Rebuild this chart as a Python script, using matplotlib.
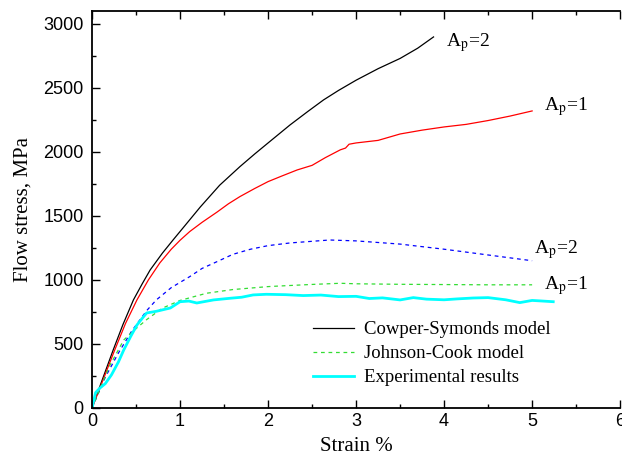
import matplotlib
matplotlib.use("Agg")
import matplotlib.pyplot as plt
from matplotlib.ticker import MultipleLocator

# Cowper-Symonds model, Ap=2 (black)
cs2_x = [0, 0.1, 0.24, 0.35, 0.47, 0.57, 0.66, 0.8, 0.92, 1.05, 1.23, 1.45, 1.68, 1.85, 2.0, 2.25, 2.45, 2.63, 2.8, 3.0, 3.25, 3.5, 3.7, 3.88]
cs2_y = [0, 190, 453, 650, 844, 970, 1078, 1210, 1312, 1420, 1570, 1740, 1885, 1985, 2070, 2211, 2315, 2406, 2480, 2560, 2650, 2730, 2810, 2898]

# Cowper-Symonds model, Ap=1 (red)
cs1_x = [0, 0.1, 0.25, 0.38, 0.51, 0.64, 0.77, 0.9, 1.0, 1.11, 1.25, 1.42, 1.55, 1.68, 1.85, 2.0, 2.15, 2.33, 2.5, 2.65, 2.82, 2.88, 2.92, 3.0, 3.25, 3.5, 3.75, 4.0, 4.25, 4.5, 4.75, 5.0]
cs1_y = [0, 175, 440, 660, 844, 1000, 1133, 1240, 1310, 1378, 1450, 1530, 1595, 1651, 1715, 1768, 1810, 1859, 1895, 1955, 2016, 2030, 2060, 2070, 2090, 2140, 2170, 2195, 2215, 2245, 2280, 2320]

# Johnson-Cook model, Ap=2 (blue dashed)
jc2_x = [0, 0.15, 0.3, 0.45, 0.62, 0.73, 0.9, 1.11, 1.25, 1.42, 1.6, 1.8, 2.0, 2.25, 2.7, 3.0, 3.5, 4.0, 4.5, 5.0]
jc2_y = [0, 240, 430, 600, 760, 844, 940, 1026, 1090, 1143, 1200, 1240, 1268, 1289, 1312, 1305, 1280, 1240, 1195, 1150]

# Johnson-Cook model, Ap=1 (green dashed)
jc1_x = [0, 0.2, 0.36, 0.5, 0.62, 0.8, 1.0, 1.3, 1.6, 2.0, 2.14, 2.5, 2.82, 3.0, 3.5, 4.0, 4.5, 5.0]
jc1_y = [0, 330, 531, 620, 690, 780, 840, 896, 925, 948, 953, 965, 974, 970, 966, 964, 962, 962]

# Experimental results (cyan)
exp_x = [0, 0.04, 0.09, 0.15, 0.22, 0.3, 0.36, 0.44, 0.51, 0.57, 0.62, 0.73, 0.89, 1.0, 1.1, 1.19, 1.38, 1.57, 1.7, 1.83, 1.98,
         2.2, 2.4, 2.6, 2.8, 3.0, 3.15, 3.3, 3.5, 3.65, 3.8, 4.0, 4.15, 4.33, 4.5, 4.7, 4.86, 5.0, 5.1, 5.24]
exp_y = [0, 120, 156, 190, 258, 360, 453, 560, 648, 700, 742, 755, 781, 830, 835, 820, 844, 857, 865, 883, 888,
         885, 878, 882, 870, 872, 855, 860, 844, 862, 850, 845, 852, 859, 862, 845, 823, 840, 836, 830]

plt.rcParams["font.family"] = ["Liberation Serif", "DejaVu Serif"]
plt.rcParams["mathtext.fontset"] = "stix"

fig = plt.figure(figsize=(6.22, 4.61), dpi=100)
ax = fig.add_axes([0.148, 0.115, 0.849, 0.861])

ax.plot(cs2_x, cs2_y, color="black", lw=0.9, label="Cowper-Symonds model")
ax.plot(cs1_x, cs1_y, color="red", lw=0.9)
ax.plot(jc2_x, jc2_y, color="blue", lw=0.9, ls=(0, (3, 3)))
ax.plot(jc1_x, jc1_y, color="#33dd33", lw=0.9, ls=(0, (3, 3)), label="Johnson-Cook model")
ax.plot(exp_x, exp_y, color="cyan", lw=2.0, label="Experimental results")

ax.set_xlim(0, 6)
ax.set_ylim(0, 3100)
ax.xaxis.set_major_locator(MultipleLocator(1))
ax.xaxis.set_minor_locator(MultipleLocator(0.5))
ax.yaxis.set_major_locator(MultipleLocator(500))
ax.yaxis.set_minor_locator(MultipleLocator(250))
ax.tick_params(which="both", direction="in", top=True, right=False, width=1)
ax.tick_params(which="major", length=6, labelsize=13)
ax.tick_params(which="minor", length=3)
ax.tick_params(axis="y", pad=6)
for lab in ax.get_xticklabels() + ax.get_yticklabels():
    lab.set_fontfamily("Liberation Sans")
for s in ["left", "bottom", "top"]:
    ax.spines[s].set_linewidth(1.3)
ax.spines["right"].set_visible(False)

ax.set_xlabel("Strain %", fontsize=15, labelpad=5)
ax.set_ylabel("Flow stress, MPa", fontsize=15, labelpad=8)

ax.text(4.02, 2855, r"A$_\mathrm{p}$=2", fontsize=14, va="center")
ax.text(5.13, 2355, r"A$_\mathrm{p}$=1", fontsize=14, va="center")
ax.text(5.02, 1235, r"A$_\mathrm{p}$=2", fontsize=14, va="center")
ax.text(5.14, 955, r"A$_\mathrm{p}$=1", fontsize=14, va="center")

ax.legend(loc="lower right", bbox_to_anchor=(0.90, 0.012), frameon=False, fontsize=13.5,
          handlelength=2.2, handletextpad=0.5, labelspacing=0.37)

fig.savefig("out.png", dpi=100)
